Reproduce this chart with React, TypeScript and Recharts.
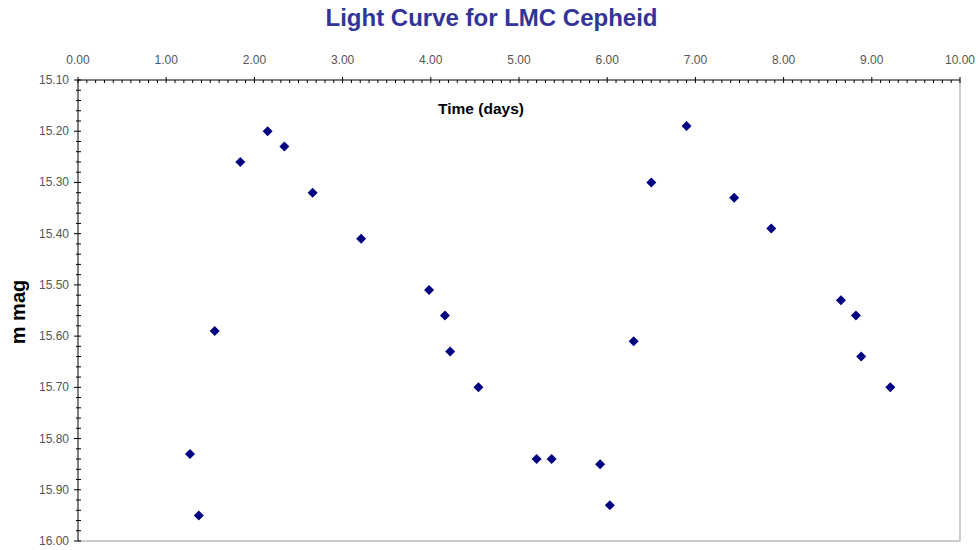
import React from "react";
import { ScatterChart, Scatter, XAxis, YAxis, ReferenceLine } from "recharts";

// time (days) vs magnitude
const timeDays = [
  1.27, 1.37, 1.55, 1.84, 2.15, 2.34, 2.66, 3.21, 3.98, 4.16, 4.22, 4.54,
  5.2, 5.37, 5.92, 6.03, 6.3, 6.5, 6.9, 7.44, 7.86, 8.65, 8.82, 8.88, 9.21,
];
const magnitude = [
  15.83, 15.95, 15.59, 15.26, 15.2, 15.23, 15.32, 15.41, 15.51, 15.56, 15.63, 15.7,
  15.84, 15.84, 15.85, 15.93, 15.61, 15.3, 15.19, 15.33, 15.39, 15.53, 15.56, 15.64, 15.7,
];

const xMajor = [0, 1, 2, 3, 4, 5, 6, 7, 8, 9, 10];
const yMajor = [15.1, 15.2, 15.3, 15.4, 15.5, 15.6, 15.7, 15.8, 15.9, 16.0];

const xTicks = Array.from({ length: 101 }, (_, i) => Math.round(i * 10) / 100);
const yTicks = Array.from({ length: 46 }, (_, i) => Math.round(1510 + i * 2) / 100);

const data = timeDays.map((t, i) => ({ t, m: magnitude[i] }));

const FONT = "'Liberation Sans', Arial, sans-serif";
const isMajor = (v: number, list: number[]) => list.some((m) => Math.abs(m - v) < 1e-6);

function XTick({ x, y, payload }: any) {
  const v = payload.value as number;
  const major = isMajor(v, xMajor);
  return (
    <g>
      <line x1={x} x2={x} y1={major ? y - 3 : y} y2={y + 3} stroke="#000" strokeWidth={1} />
      {major && (
        <text x={x} y={y - 16} textAnchor="middle" fontSize={12} fill="#555" fontFamily={FONT}>
          {v.toFixed(2)}
        </text>
      )}
    </g>
  );
}

function YTick({ x, y, payload }: any) {
  const v = payload.value as number;
  const major = isMajor(v, yMajor);
  return (
    <g>
      <line x1={major ? x - 4 : x - 2} x2={x + 3} y1={y} y2={y} stroke="#000" strokeWidth={1} />
      {major && (
        <text x={x - 9} y={y + 4} textAnchor="end" fontSize={12} fill="#555" fontFamily={FONT}>
          {v.toFixed(2)}
        </text>
      )}
    </g>
  );
}

function Diamond({ cx, cy }: any) {
  const r = 5;
  return (
    <polygon
      points={`${cx},${cy - r} ${cx + r},${cy} ${cx},${cy + r} ${cx - r},${cy}`}
      fill="#000080"
    />
  );
}

export default function App() {
  return (
    <div style={{ position: "absolute", left: 0, top: 0, width: 979, height: 550, background: "#fff", fontFamily: FONT }}>
      <ScatterChart width={979} height={550} margin={{ top: 50, right: 19, bottom: 9, left: 18 }}>
        <ReferenceLine x={10} stroke="#cccccc" strokeWidth={2} />
        <ReferenceLine y={16} stroke="#cccccc" strokeWidth={2} />
        <XAxis
          type="number"
          dataKey="t"
          orientation="top"
          domain={[0, 10]}
          ticks={xTicks}
          interval={0}
          height={30}
          tickSize={0}
          tickMargin={0}
          tickLine={false}
          tick={<XTick />}
          axisLine={{ stroke: "#000" }}
          allowDataOverflow
        />
        <YAxis
          type="number"
          dataKey="m"
          reversed
          domain={[15.1, 16.0]}
          ticks={yTicks}
          interval={0}
          width={60}
          tickSize={0}
          tickMargin={0}
          tickLine={false}
          tick={<YTick />}
          axisLine={{ stroke: "#000" }}
          allowDataOverflow
        />
        <Scatter data={data} shape={<Diamond />} isAnimationActive={false} />
      </ScatterChart>
      <div style={{ position: "absolute", left: 0, width: 979, top: 4, textAlign: "center", fontSize: 24, fontWeight: "bold", color: "#333399" }}>
        <span style={{ marginLeft: 4 }}>Light Curve for LMC Cepheid</span>
      </div>
      <div style={{ position: "absolute", left: 421, width: 120, top: 100, textAlign: "center", fontSize: 15.5, fontWeight: "bold", color: "#000" }}>
        Time (days)
      </div>
      <div
        style={{
          position: "absolute",
          left: 18,
          top: 312,
          transform: "translate(-50%, -50%) rotate(-90deg)",
          fontSize: 20,
          fontWeight: "bold",
          whiteSpace: "nowrap",
          color: "#000",
        }}
      >
        m mag
      </div>
    </div>
  );
}
